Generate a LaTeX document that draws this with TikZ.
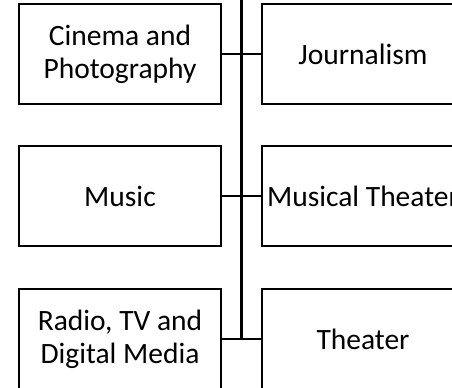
\documentclass[tikz,border=0pt]{standalone}
\usepackage{fontspec}
\setmainfont{Carlito}
\begin{document}
\begin{tikzpicture}[x=1bp,y=1bp,
  field/.style={draw=black,line width=2bp,minimum width=202bp,minimum height=100bp,inner sep=0pt,align=center,font=\fontsize{29.5bp}{33bp}\selectfont},
  link/.style={draw=black,line width=2bp}]

\useasboundingbox (0,0) rectangle (452,387);
\clip (0,0) rectangle (452,387);

%row1
\node[field] (cinema) at (120,333) {Cinema and\\Photography};
\node[field] (journalism) at (363,333) {Journalism};
\path[link] (cinema) -- (journalism);

%row2
\node[field] (music) at (120,191) {Music};
\node[field] (musical) at (363,191) {Musical Theater};
\path[link] (music) -- (musical);

%row3
\node[field] (radio) at (120,48) {Radio, TV and\\Digital Media};
\node[field] (theater) at (363,48) {Theater};
\path[link] (radio) -- (theater);

%spine
\coordinate (top) at (241.5,392);
\path[draw=black,line width=2.4bp] (top) -- (top |- radio.east);

\end{tikzpicture}
\end{document}
